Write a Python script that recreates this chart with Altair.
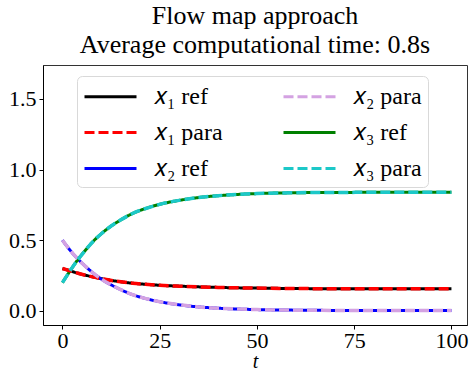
import altair as alt
import pandas as pd

t = [0, 2, 4, 6, 8, 10, 12, 15, 18, 21, 25, 30, 35, 40, 45, 50, 60, 70, 80, 90, 100]
x1 = [0.300, 0.283, 0.266, 0.252, 0.239, 0.228, 0.218, 0.206, 0.196, 0.189, 0.181,
      0.175, 0.170, 0.166, 0.163, 0.161, 0.158, 0.157, 0.157, 0.156, 0.156]
x2 = [0.500, 0.428, 0.366, 0.313, 0.265, 0.225, 0.192, 0.150, 0.115, 0.090, 0.065,
      0.043, 0.028, 0.019, 0.013, 0.009, 0.005, 0.003, 0.002, 0.002, 0.002]
x3 = [0.200, 0.285, 0.364, 0.432, 0.495, 0.546, 0.590, 0.644, 0.689, 0.721, 0.754,
      0.782, 0.802, 0.815, 0.824, 0.830, 0.836, 0.838, 0.839, 0.840, 0.840]

sym = {"x1": "𝑥₁", "x2": "𝑥₂", "x3": "𝑥₃"}
kinds = ["ref", "para"]

rows = []
for var, vals in (("x1", x1), ("x2", x2), ("x3", x3)):
    for kind in kinds:
        for ti, v in zip(t, vals):
            rows.append({"t": ti, "value": v, "series": f"{sym[var]} {kind}", "kind": kind})
df = pd.DataFrame(rows)

domain = [f"{sym[v]} {k}" for v in ("x1", "x2", "x3") for k in kinds]
colors = ["black", "red", "blue", "#d4a2e2", "green", "#1cc8c8"]
dashes = [[1, 0], [10, 4], [1, 0], [10, 4], [1, 0], [10, 4]]

FONT = "Liberation Serif"

legend = alt.Legend(
    title=None, orient="none", legendX=34, legendY=11, columns=2,
    symbolType="M-1,0H3", symbolSize=676, symbolStrokeWidth=3,
    labelFont=FONT, labelFontSize=24, labelColor="black",
    strokeColor="#d9d9d9", fillColor="rgba(255,255,255,0.85)", cornerRadius=5,
    padding=6, rowPadding=9, columnPadding=54, labelOffset=42,
)

color = alt.Color("series:N", scale=alt.Scale(domain=domain, range=colors), legend=legend)
dash = alt.StrokeDash("series:N", scale=alt.Scale(domain=domain, range=dashes), legend=legend)

x = alt.X("t:Q", scale=alt.Scale(domain=[-5, 104], nice=False, zero=False),
          axis=alt.Axis(values=[0, 25, 50, 75, 100], title="t", titleFontStyle="italic",
                        titleFont=FONT, titleFontSize=20, titleFontWeight="normal",
                        titlePadding=0, labelPadding=1))
y = alt.Y("value:Q", scale=alt.Scale(domain=[-0.1, 1.74], nice=False, zero=False),
          axis=alt.Axis(values=[0, 0.5, 1.0, 1.5], format=".1f", title=None))

base = alt.Chart(df)
ref = base.transform_filter(alt.datum.kind == "ref").mark_line(
    strokeWidth=3, interpolate="monotone").encode(x=x, y=y, color=color, strokeDash=dash)
para = base.transform_filter(alt.datum.kind == "para").mark_line(
    strokeWidth=3.5, interpolate="monotone").encode(x=x, y=y, color=color, strokeDash=dash)

chart = alt.layer(ref, para).properties(
    width=424, height=260,
    autosize=alt.AutoSizeParams(type="none"),
    padding={"left": 43, "top": 65, "right": 3, "bottom": 47},
    background="white",
    title=alt.TitleParams(
        text=["Flow map approach", "Average computational time: 0.8s"],
        font=FONT, fontSize=26, fontWeight="normal", color="black",
        anchor="middle", offset=7, lineHeight=29,
    ),
).configure_view(stroke="#333", strokeWidth=1).configure_axis(
    labelFont=FONT, labelFontSize=22, labelColor="black", tickColor="black",
    domainColor="black", tickSize=4, grid=False, labelPadding=3, titleColor="black",
)

chart.save("out.html", embed_options={"renderer": "svg", "actions": False})
